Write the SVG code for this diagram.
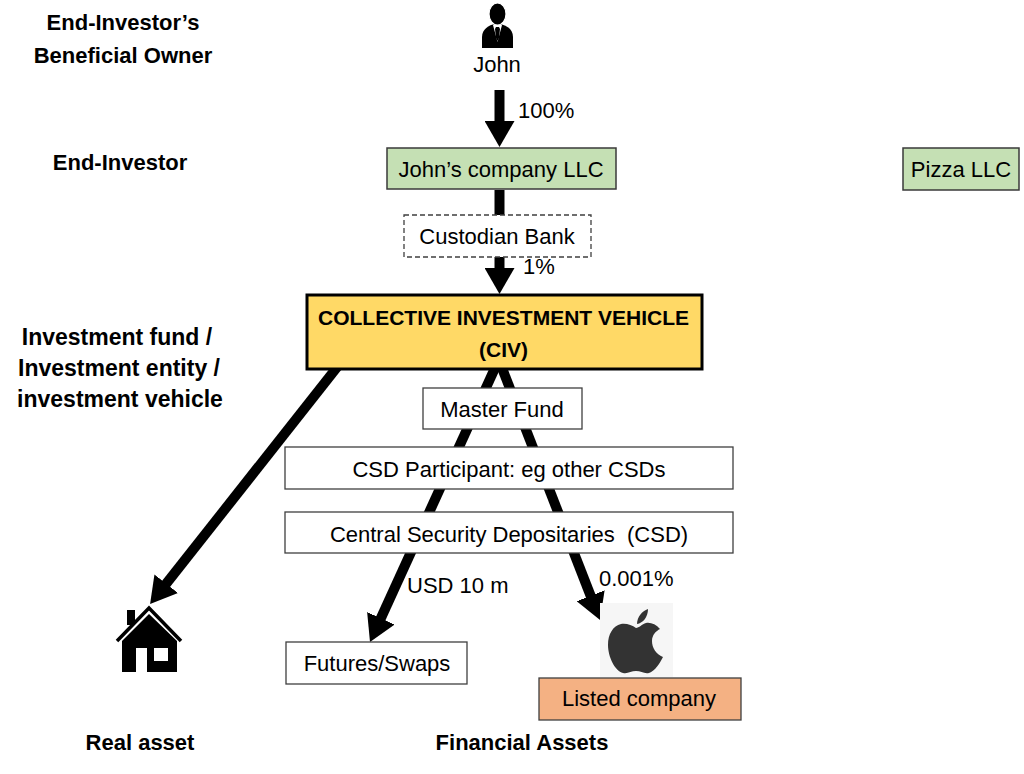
<svg xmlns="http://www.w3.org/2000/svg" width="1024" height="774" viewBox="0 0 1024 774">
<style>
.t{font-family:"Liberation Sans",Arial,sans-serif;font-size:22px;fill:#000}
.b{font-family:"Liberation Sans",Arial,sans-serif;font-size:22px;font-weight:bold;fill:#000}
.c{text-anchor:middle}
.box{fill:#fff;stroke:#3f3f3f;stroke-width:1.3}
.green{fill:#c5e0b4;stroke:#3a3a3a;stroke-width:1.5}
.conn{stroke:#000;stroke-width:10;fill:none;marker-end:url(#ah)}
</style>
<defs>
<marker id="ah" markerUnits="userSpaceOnUse" markerWidth="30" markerHeight="30" refX="6" refY="15" orient="auto">
<path d="M0,0 L26,15 L0,30 Z" fill="#000"/>
</marker>
</defs>
<rect width="1024" height="774" fill="#fff"/>

<g id="labels">
<text class="b c" x="123" y="30">End-Investor’s</text>
<text class="b c" x="123" y="63">Beneficial Owner</text>
<text class="b c" x="120" y="170">End-Investor</text>
<text class="b c" x="117" y="345" style="font-size:23px">Investment fund /</text>
<text class="b c" x="119" y="376" style="font-size:23px">Investment entity /</text>
<text class="b c" x="120" y="407" style="font-size:23px">investment vehicle</text>
<text class="b c" x="140" y="750">Real asset</text>
<text class="b c" x="522" y="750">Financial Assets</text>
</g>

<g id="connectors">
<line class="conn" x1="499.5" y1="90" x2="499.5" y2="127"/>
<line class="conn" x1="499.5" y1="190" x2="499.5" y2="274"/>
<line class="conn" x1="338" y1="366" x2="162.5" y2="588.4"/>
<line class="conn" x1="495" y1="368" x2="378.3" y2="623.8"/>
<line class="conn" x1="502" y1="368" x2="592.8" y2="601.4"/>
<text class="t" x="518" y="118">100%</text>
<text class="t" x="523" y="274">1%</text>
<text class="t" x="407" y="593">USD 10 m</text>
<text class="t" x="599" y="586">0.001%</text>
</g>

<g id="john">
<path d="M482,48 V37 C482,29 489,25 495,24 L500,24 C506,25 513,29 513,37 V48 Z" fill="#000"/>
<path d="M493,25 L502,25 L497.5,42 Z" fill="#fff"/>
<path d="M496,27 L499,27 L500,29 L499,38 L497.5,41 L496,38 L495,29 Z" fill="#000"/>
<ellipse cx="497.5" cy="14" rx="8.5" ry="11" fill="#000" stroke="#fff" stroke-width="1.2"/>
<text class="t c" x="497" y="72">John</text>
</g>

<g id="johns-company">
<rect class="green" x="387" y="148" width="229" height="41"/>
<text class="t c" x="501" y="177">John’s company LLC</text>
</g>

<g id="pizza">
<rect class="green" x="903" y="148" width="116" height="42"/>
<text class="t c" x="961" y="177">Pizza LLC</text>
</g>

<g id="custodian">
<rect x="404" y="215" width="187" height="42" fill="#fff" stroke="#3f3f3f" stroke-width="1.3" stroke-dasharray="5,3"/>
<text class="t c" x="497" y="244">Custodian Bank</text>
</g>

<g id="civ">
<rect x="307" y="295" width="395" height="74" fill="#ffd966" stroke="#000" stroke-width="3"/>
<text class="b c" x="503.5" y="325" style="font-size:21px">COLLECTIVE INVESTMENT VEHICLE</text>
<text class="b c" x="503.5" y="357" style="font-size:21px">(CIV)</text>
</g>

<g id="master-fund">
<rect class="box" x="423" y="388" width="159" height="41"/>
<text class="t c" x="502" y="417">Master Fund</text>
</g>

<g id="csd-participant">
<rect class="box" x="285" y="447" width="448" height="42"/>
<text class="t c" x="509" y="477">CSD Participant: eg other CSDs</text>
</g>

<g id="csd">
<rect class="box" x="285" y="512" width="448" height="41"/>
<text class="t c" x="509" y="542" xml:space="preserve">Central Security Depositaries  (CSD)</text>
</g>

<g id="house">
<polyline points="117,641 149,608 181,641" fill="none" stroke="#000" stroke-width="3.5"/>
<rect x="127" y="610" width="8" height="15" fill="#000"/>
<path d="M122,672 V641 L149,614 L177,641 V672 H147 V648 H136 V672 Z M154,648 V661 H168 V648 Z" fill="#000" fill-rule="evenodd"/>
</g>

<g id="futures">
<rect class="box" x="286" y="642" width="181" height="42"/>
<text class="t c" x="377" y="671">Futures/Swaps</text>
</g>

<g id="apple">
<rect x="600" y="603" width="73" height="74" fill="#f6f6f6"/>
<path d="M636,628 C632,625 626,623 621,624 C613,626 608,634 608,645 C608,657 615,671 623,673 C628,674 631,671 636,671 C641,671 644,674 649,673 C655,671 660,663 663,657 C656,654 652,648 652,641 C652,635 656,631 660,629 C656,624 650,622 646,623 C642,624 639,628 636,628 Z" fill="#333"/>
<path d="M637,624 C637,617 642,611 648,609 C648,617 643,623 637,624 Z" fill="#333"/>
</g>

<g id="listed-company">
<rect x="539" y="678" width="202" height="42" fill="#f4b183" stroke="#3f3f3f" stroke-width="1.3"/>
<text class="t c" x="639" y="706">Listed company</text>
</g>
</svg>
